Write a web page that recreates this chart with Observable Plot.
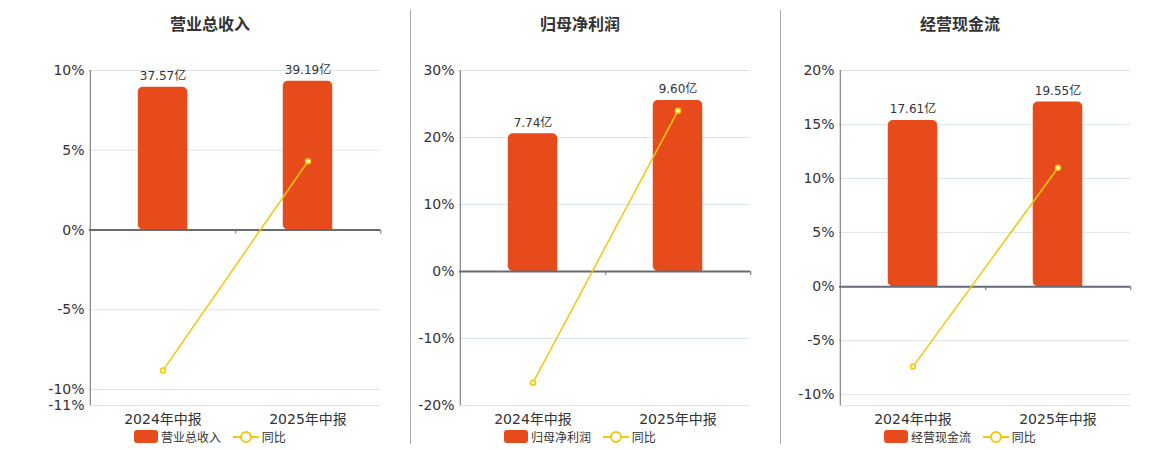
<!DOCTYPE html>
<html><head><meta charset="utf-8">
<script src="https://cdn.jsdelivr.net/npm/d3@7"></script>
<script src="https://cdn.jsdelivr.net/npm/@observablehq/plot@0.6"></script>
<style>
body{margin:0;background:#fff;font-family:"DejaVu Sans","Noto Sans CJK SC",sans-serif;}
#root{position:relative;width:1160px;height:450px;overflow:hidden;}
.panel{position:absolute;top:0;width:370px;height:450px;}
.title{position:absolute;top:11px;left:0;width:340px;text-align:center;font-size:16px;font-weight:bold;color:#333;font-family:"Noto Sans CJK SC","DejaVu Sans",sans-serif;}
.chart{position:absolute;top:40px;left:0;}
.legend{position:absolute;top:428px;left:0;width:340px;display:flex;justify-content:center;align-items:center;font-size:12px;color:#333;font-family:"Noto Sans CJK SC","DejaVu Sans",sans-serif;}
.legend span{display:inline-flex;align-items:center;margin:0 4px;}
.sep{position:absolute;top:10px;width:1px;height:434px;background:#aaa;}
</style></head>
<body><div id="root"></div>
<script>
// ---- data ----
const periods = ["2024年中报", "2025年中报"];
const titles = ["营业总收入", "归母净利润", "经营现金流"];
const revenue = [37.57, 39.19];      // 亿
const revenueYoy = [-8.8, 4.31];     // %
const profit = [7.74, 9.60];
const profitYoy = [-16.6, 24.0];
const cashflow = [17.61, 19.55];
const cashflowYoy = [-7.4, 11.0];
const yDomains = [[-11, 10], [-20, 30], [-11, 20]];
const yTicks = [[-11, -10, -5, 0, 5, 10], [-20, -10, 0, 10, 20, 30], [-10, -5, 0, 5, 10, 15, 20]];
const gridTicks = [[-11, -10, -5, 0, 5, 10], [-20, -10, 0, 10, 20, 30], [-11, -10, -5, 0, 5, 10, 15, 20]];
const barAxisMax = [42, 11.29, 22.9]; // hidden bar axis value at top of percent axis

const seriesVals = [revenue, profit, cashflow];
const seriesYoy = [revenueYoy, profitYoy, cashflowYoy];
const offsets = [40, 410, 790];

const BAR = "#e84b1b", LINE = "#f2c80f";
const W = 370, H = 390, mT = 30, mB = 25, mL = 49, mR = 30;
const root = document.getElementById("root");

titles.forEach((title, i) => {
  const panel = document.createElement("div");
  panel.className = "panel";
  panel.style.left = offsets[i] + "px";
  root.appendChild(panel);

  const t = document.createElement("div");
  t.className = "title"; t.textContent = title;
  panel.appendChild(t);

  const [ymin, ymax] = yDomains[i];
  const k = ymax / barAxisMax[i];
  const data = periods.map((p, j) => ({p, v: seriesVals[i][j], yoy: seriesYoy[i][j]}));
  const bw = (W - mL - mR) / periods.length;
  const tickLen = (ymax - ymin) / (H - mT - mB) * 4;

  const plot = Plot.plot({
    width: W, height: H, marginTop: mT, marginBottom: mB, marginLeft: mL, marginRight: mR,
    style: {fontFamily: '"DejaVu Sans","Noto Sans CJK SC",sans-serif', fontSize: "14px", color: "#333", background: "transparent"},
    x: {domain: periods, padding: 0},
    y: {domain: [ymin, ymax]},
    marks: [
      Plot.gridY(gridTicks[i], {stroke: "#dde3f0", strokeOpacity: 1}),
      Plot.axisY(yTicks[i], {tickSize: 0, tickPadding: 5, tickFormat: d => d + "%", fontSize: 14, fill: "#333", label: null}),
      Plot.axisX({tickSize: 0, tickPadding: 9, fontSize: 14, fill: "#333", label: null, fontFamily: '"DejaVu Sans","Noto Sans CJK SC",sans-serif'}),
      Plot.barY(data, {x: "p", y: d => d.v * k, fill: BAR, insetLeft: 47.75, insetRight: 47.75, ry1: 5, rx1: 5}),
      Plot.text(data, {x: "p", y: d => d.v * k, text: d => d.v.toFixed(2) + "亿", dy: -11, fontSize: 12, fill: "#333", fontFamily: '"DejaVu Sans","Noto Sans CJK SC",sans-serif'}),
      Plot.ruleX(periods.slice(0, 1), {x: d => d, dx: -bw / 2, y1: ymin, y2: ymax, stroke: "#666a75", strokeWidth: 1}),
      Plot.ruleY([0], {stroke: "#666a75", strokeWidth: 2}),
      Plot.ruleX(periods, {x: d => d, dx: bw / 2, y1: 0, y2: -tickLen, stroke: "#666a75", strokeWidth: 1}),
      Plot.lineY(data, {x: "p", y: "yoy", stroke: LINE, strokeWidth: 1.5}),
      Plot.dot(data, {x: "p", y: "yoy", r: 2.5, stroke: LINE, strokeWidth: 1.5, fill: "#fff6c8"})
    ]
  });
  plot.classList.add("chart");
  panel.appendChild(plot);

  const lg = document.createElement("div");
  lg.className = "legend";
  lg.innerHTML = `<span><svg width="24" height="13"><rect x="0" y="0" width="24" height="13" rx="3" fill="${BAR}"/></svg>&nbsp;${title}</span>` +
    `<span style="margin-left:8px"><svg width="26" height="14"><line x1="0" x2="26" y1="7" y2="7" stroke="${LINE}" stroke-width="2"/><circle cx="13" cy="7" r="5" fill="#fff" stroke="${LINE}" stroke-width="2"/></svg>&nbsp;同比</span>`;
  panel.appendChild(lg);
});

[410, 780].forEach(x => {
  const s = document.createElement("div");
  s.className = "sep"; s.style.left = x + "px";
  root.appendChild(s);
});
</script></body></html>
